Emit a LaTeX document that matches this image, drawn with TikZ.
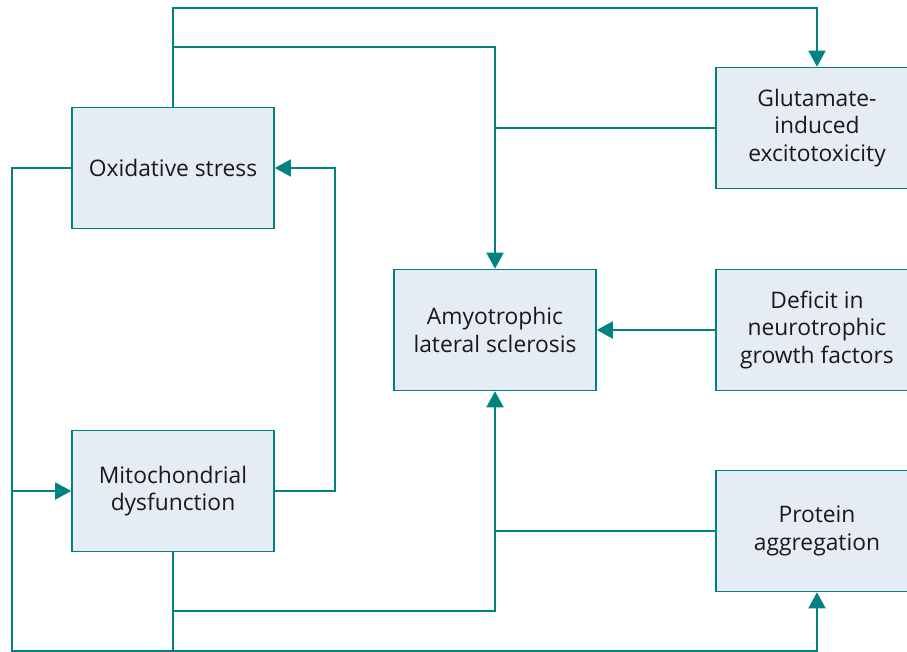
\documentclass[tikz,border=0pt]{standalone}
\usepackage{fontspec}
\setmainfont{Open Sans}
\usetikzlibrary{arrows.meta}
\definecolor{teal}{HTML}{00837F}
\definecolor{boxfill}{HTML}{E6ECF6}
\tikzset{
  box/.style={draw=teal, fill=boxfill, line width=1.6pt, minimum width=202pt, minimum height=121pt, align=center, font=\fontsize{22.8}{27.5}\selectfont, text=black!90, inner sep=0pt},
  conn/.style={draw=teal, line width=1.7pt},
  arr/.style={conn, -{Triangle[length=16pt,width=17pt]}}
}
\begin{document}
\begin{tikzpicture}[x=1pt,y=-1pt]
\useasboundingbox (0,0) rectangle (907,652);
\clip (0,0) rectangle (907,652);
\node[box] (ox) at (173,168) {Oxidative stress};
\node[box] (mi) at (173,491) {Mitochondrial\\dysfunction};
\node[box] (als) at (495,330) {Amyotrophic\\lateral sclerosis};
\node[box] (glu) at (817,128) {Glutamate-\\induced\\excitotoxicity};
\node[box] (def) at (817,330) {Deficit in\\neurotrophic\\growth factors};
\node[box] (pro) at (817,531) {Protein\\aggregation};
\coordinate (t1) at (173,8);
\coordinate (t2) at (173,47);
\coordinate (ml) at (12,491);
\coordinate (bl) at (12,651);
\coordinate (mb) at (173,611);
\coordinate (mbb) at (173,651);
% oxidative -> glutamate
\draw[arr] (ox.north) -- (t1) -| (glu.north);
% oxidative -> ALS
\draw[arr] (t2) -| (als.north);
% glutamate -> ALS line
\draw[conn] (glu.west) -- (glu.west -| als.north);
% deficit -> ALS
\draw[arr] (def.west) -- (als.east);
% protein -> ALS line
\draw[conn] (pro.west) -- (pro.west -| als.south);
% mito -> ALS
\draw[arr] (mi.south) -- (mb) -| (als.south);
% mito -> protein
\draw[arr] (mb) -- (mbb) -| (pro.south);
% oxidative -> mito, and left line down
\draw[conn] (ox.west) -| (bl) -- (mbb);
\draw[arr] (ml) -- (mi.west);
% mito -> oxidative
\draw[arr] (mi.east) -- ++(60,0) |- (ox.east);
\end{tikzpicture}
\end{document}
